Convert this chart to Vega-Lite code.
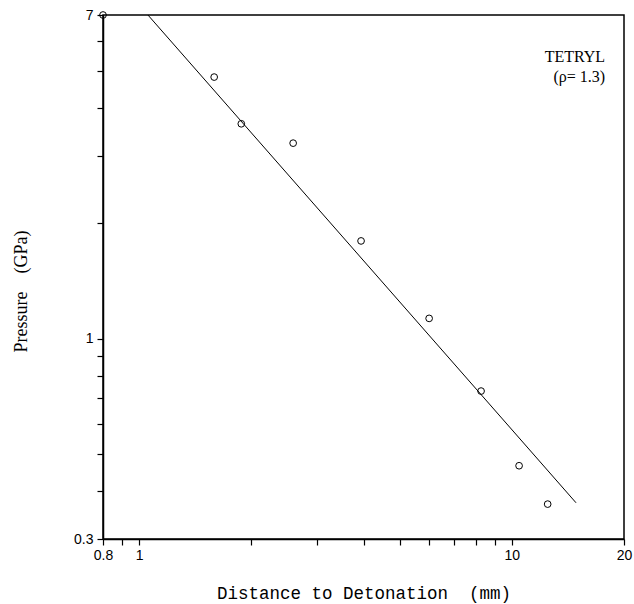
{
  "$schema": "https://vega.github.io/schema/vega-lite/v6.json",
  "width": 521,
  "height": 524,
  "autosize": {"type": "none"},
  "padding": {"left": 103, "top": 15, "right": 10, "bottom": 65},
  "background": "white",
  "config": {
    "view": {"stroke": "black", "strokeWidth": 1.5},
    "axis": {
      "grid": false,
      "domainColor": "black",
      "domainWidth": 1.5,
      "tickColor": "black",
      "tickWidth": 1.2,
      "tickSize": 6,
      "labelFont": "Liberation Sans",
      "labelFontSize": 14,
      "labelColor": "black",
      "labelOverlap": false,
      "labelFlush": false,
      "titleColor": "black",
      "titleFontWeight": "normal"
    }
  },
  "datasets": {
    "points": [
      {"distance": 0.8, "pressure": 7.0},
      {"distance": 1.59, "pressure": 4.82},
      {"distance": 1.88, "pressure": 3.64},
      {"distance": 2.59, "pressure": 3.24},
      {"distance": 3.94, "pressure": 1.8},
      {"distance": 6.0, "pressure": 1.13},
      {"distance": 8.27, "pressure": 0.73},
      {"distance": 10.46, "pressure": 0.466},
      {"distance": 12.48, "pressure": 0.37}
    ],
    "fit": [
      {"distance": 1.056, "pressure": 7.0},
      {"distance": 14.87, "pressure": 0.373}
    ]
  },
  "layer": [
    {
      "data": {"name": "fit"},
      "mark": {"type": "line", "color": "black", "strokeWidth": 1, "clip": true},
      "encoding": {
        "x": {
          "field": "distance",
          "type": "quantitative",
          "scale": {"type": "log", "domain": [0.8, 20], "nice": false, "zero": false},
          "axis": {
            "title": "Distance to Detonation\u00a0\u00a0(mm)",
            "titleFont": "Liberation Mono",
            "titleFontSize": 17.5,
            "titleBaseline": "alphabetic",
            "titleY": 59,
            "values": [0.8, 0.9, 1, 2, 3, 4, 5, 6, 7, 8, 9, 10, 20],
            "labelExpr": "datum.value == 0.8 ? '0.8' : datum.value == 1 ? '1' : datum.value == 10 ? '10' : datum.value == 20 ? '20' : ''",
            "labelPadding": 3
          }
        },
        "y": {
          "field": "pressure",
          "type": "quantitative",
          "scale": {"type": "log", "domain": [0.3, 7], "nice": false, "zero": false},
          "axis": {
            "title": "Pressure\u2003(GPa)",
            "titleFont": "Liberation Serif",
            "titleFontSize": 18,
            "titleBaseline": "alphabetic",
            "titleAngle": -90,
            "titleAlign": "center",
            "titleX": -77,
            "titleY": 276,
            "values": [0.3, 0.4, 0.5, 0.6, 0.7, 0.8, 0.9, 1, 2, 3, 4, 5, 6, 7],
            "labelExpr": "datum.value == 0.3 ? '0.3' : datum.value == 1 ? '1' : datum.value == 7 ? '7' : ''",
            "labelPadding": 4
          }
        }
      }
    },
    {
      "data": {"name": "points"},
      "mark": {"type": "point", "shape": "circle", "filled": false, "color": "black", "size": 45, "strokeWidth": 1, "opacity": 1},
      "encoding": {
        "x": {"field": "distance", "type": "quantitative"},
        "y": {"field": "pressure", "type": "quantitative"}
      }
    },
    {
      "data": {"values": [{"label": "TETRYL"}]},
      "mark": {"type": "text", "align": "right", "baseline": "alphabetic", "font": "Liberation Serif", "fontSize": 16, "color": "black", "lineBreak": "\n", "lineHeight": 20},
      "encoding": {
        "x": {"datum": 17.8, "type": "quantitative"},
        "y": {"datum": 5.28, "type": "quantitative"},
        "text": {"value": ["TETRYL", "(ρ= 1.3)"]}
      }
    }
  ]
}
